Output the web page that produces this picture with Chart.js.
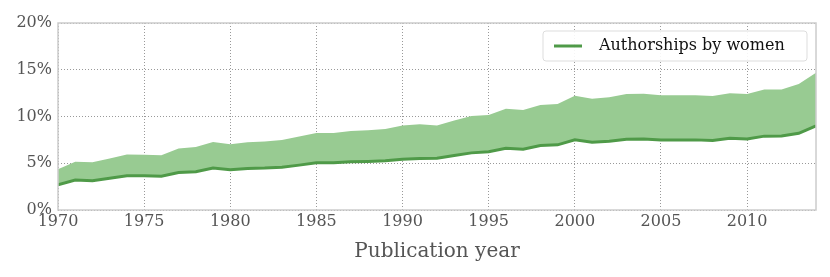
<!DOCTYPE html>
<html>
<head>
<meta charset="utf-8">
<script src="https://cdn.jsdelivr.net/npm/chart.js@4"></script>
<style>
  html, body { margin: 0; padding: 0; background: #fff; }
  #wrap { width: 830px; height: 277px; }
</style>
</head>
<body>
<div id="wrap"><canvas id="chartdiv" width="830" height="277"></canvas></div>
<script>
const years = [1970,1971,1972,1973,1974,1975,1976,1977,1978,1979,
               1980,1981,1982,1983,1984,1985,1986,1987,1988,1989,
               1990,1991,1992,1993,1994,1995,1996,1997,1998,1999,
               2000,2001,2002,2003,2004,2005,2006,2007,2008,2009,
               2010,2011,2012,2013,2014]
// share of authorships by women (%)
const women = [2.7,3.2,3.13,3.4,3.66,3.66,3.6,4.0,4.1,4.48,
               4.3,4.44,4.48,4.58,4.8,5.05,5.05,5.15,5.2,5.26,
               5.44,5.5,5.54,5.83,6.11,6.22,6.6,6.5,6.9,6.97,
               7.5,7.25,7.36,7.57,7.6,7.5,7.5,7.5,7.43,7.68,
               7.6,7.9,7.92,8.2,9.0]
// upper edge of the shaded band (%)
const upper = [4.37,5.15,5.12,5.5,5.93,5.9,5.86,6.57,6.75,7.28,
               7.04,7.25,7.32,7.5,7.85,8.24,8.24,8.46,8.53,8.67,
               9.03,9.17,9.03,9.56,10.06,10.16,10.84,10.7,11.23,11.34,
               12.22,11.9,12.05,12.4,12.44,12.26,12.26,12.26,12.19,12.5,
               12.4,12.9,12.9,13.47,14.68]
const xTicks = [1970,1975,1980,1985,1990,1995,2000,2005,2010]
const yTicks = [0,5,10,15,20]
const xTitle = "Publication year"
const seriesLabel = "Authorships by women"

const lineColor = '#4f9a48'
const fillColor = '#98cb92'
const tickColor = '#555555'
const font = "'DejaVu Serif', serif"

// frame around the plot + legend box in the top right corner
const framePlugin = {
    id: 'frame',
    afterDraw(chart) {
        const ctx = chart.ctx
        const a = chart.chartArea
        ctx.save()
        ctx.strokeStyle = '#cccccc'
        ctx.lineWidth = 1.5
        ctx.strokeRect(a.left, a.top, a.right - a.left, a.bottom - a.top)

        // legend
        const bx = a.right - 273, by = a.top + 8, bw = 264, bh = 30
        ctx.beginPath()
        ctx.roundRect(bx, by, bw, bh, 3)
        ctx.fillStyle = 'rgba(255,255,255,0.9)'
        ctx.fill()
        ctx.strokeStyle = '#dddddd'
        ctx.lineWidth = 1
        ctx.stroke()
        ctx.beginPath()
        ctx.moveTo(bx + 11, by + 15)
        ctx.lineTo(bx + 39, by + 15)
        ctx.strokeStyle = lineColor
        ctx.lineWidth = 3
        ctx.stroke()
        ctx.fillStyle = '#111111'
        ctx.font = "16px " + font
        ctx.textBaseline = 'middle'
        ctx.fillText(chart.data.datasets[0].label, bx + 56, by + 15)
        ctx.restore()
    }
}

const gridOpts = {
    color: '#999999',
    lineWidth: 1,
    drawTicks: false
}

const chart = new Chart(document.getElementById('chartdiv').getContext('2d'), {
    type: 'line',
    data: {
        datasets: [
            {
                label: seriesLabel,
                data: years.map((y, i) => ({x: y, y: women[i]})),
                borderColor: lineColor,
                borderWidth: 3,
                pointRadius: 0,
                fill: false,
                tension: 0
            },
            {
                label: 'band',
                data: years.map((y, i) => ({x: y, y: upper[i]})),
                borderWidth: 0,
                borderColor: fillColor,
                backgroundColor: fillColor,
                pointRadius: 0,
                fill: 0,
                tension: 0
            }
        ]
    },
    options: {
        responsive: false,
        animation: {duration: 0},
        layout: {padding: {top: 23, right: 14, left: 0, bottom: 0}},
        plugins: {
            legend: {display: false},
            tooltip: {enabled: false}
        },
        scales: {
            x: {
                type: 'linear',
                min: 1970,
                max: 2014,
                border: {display: false, dash: [1, 2]},
                grid: gridOpts,
                afterBuildTicks: s => { s.ticks = xTicks.map(v => ({value: v})) },
                ticks: {
                    color: tickColor,
                    font: {family: font, size: 16},
                    padding: 2,
                    maxRotation: 0,
                    callback: v => String(v)
                },
                title: {
                    display: true,
                    text: xTitle,
                    color: tickColor,
                    font: {family: font, size: 20},
                    padding: {top: 0, bottom: 13}
                },
                afterFit: s => { s.height = 67 }
            },
            y: {
                min: 0,
                max: 20,
                border: {display: false, dash: [1, 2]},
                grid: gridOpts,
                afterBuildTicks: s => { s.ticks = yTicks.map(v => ({value: v})) },
                ticks: {
                    color: tickColor,
                    font: {family: font, size: 16},
                    padding: 6,
                    callback: v => v + '%'
                },
                afterFit: s => { s.width = 58 }
            }
        }
    },
    plugins: [framePlugin]
})
</script>
</body>
</html>
